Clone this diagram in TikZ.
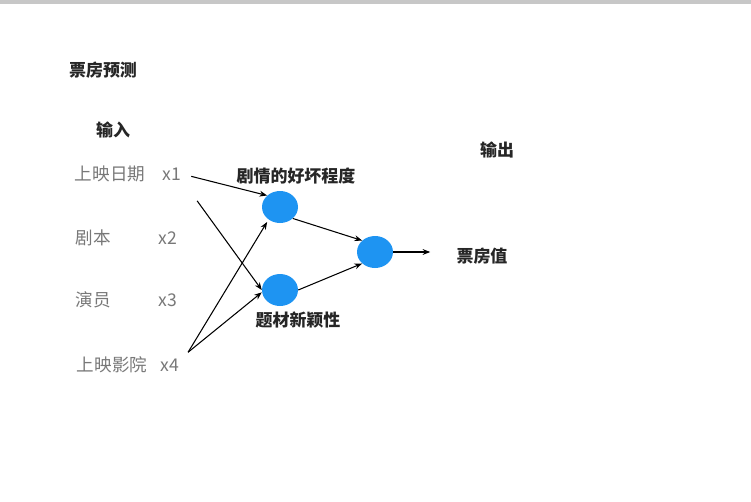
\documentclass[tikz,border=0pt]{standalone}
\usepackage{fontspec}
\setmainfont{Noto Sans CJK SC}
\usepackage{tikz}
\usetikzlibrary{arrows.meta, positioning, shapes.geometric}

\definecolor{neuron}{RGB}{30,148,242}
\definecolor{intext}{RGB}{120,120,120}

\begin{document}
\begin{tikzpicture}[
        x=0.03cm, y=-0.03cm,
        title/.style={font=\bfseries\fontsize{14.5}{16}\selectfont, text=black!85},
        input/.style={font=\fontsize{15}{17}\selectfont, text=intext},
        unit/.style={ellipse, fill=neuron, minimum width=36*0.03cm, minimum height=32*0.03cm, inner sep=0pt},
        link/.style={-{Stealth[length=6.5pt, width=5pt]}, line width=0.9pt}
    ]
        \useasboundingbox (0,0) rectangle (751,502);
        \fill[black!22] (0,0) rectangle (751,4);

        \node[title] (head) at (103,70) {票房预测};
        \node[title] (inlabel) at (113,130) {输入};
        \node[title] (outlabel) at (497,150) {输出};

        \node[input] (d1) at (110,174) {上映日期};
        \node[input] (x1) at (172,174) {x1};
        \node[input] (d2) at (93,238) {剧本};
        \node[input] (x2) at (168,238) {x2};
        \node[input] (d3) at (93,300) {演员};
        \node[input] (x3) at (168,300) {x3};
        \node[input] (d4) at (112,365) {上映影院};
        \node[input] (x4) at (170,365) {x4};

        \node[unit] (h1) at (280,207) {};
        \node[unit] (h2) at (280,290) {};
        \node[unit] (out) at (375,252) {};

        \node[title] (h1label) at (296,176) {剧情的好坏程度};
        \node[title] (h2label) at (298,320) {题材新颖性};
        \node[title] (result) at (482,256) {票房值};

        \draw[link] ([shift={(5pt,-2pt)}]x1.east) -- (h1.north west);
        \draw[link] ([shift={(10pt,-14pt)}]x1.south east) -- (h2.west);
        \draw[link] ([shift={(4pt,2pt)}]x4.north east) -- ([yshift=-3pt]h1.south west);
        \draw[link] ([shift={(4pt,2pt)}]x4.north east) -- ([yshift=-2pt]h2.west);
        \draw[link] (h1.south east) -- (out.north west);
        \draw[link] (h2.east) -- (out.south west);
        \draw[link] (out.east) -- ++(37,0) coordinate (res);
    \end{tikzpicture}
\end{document}
